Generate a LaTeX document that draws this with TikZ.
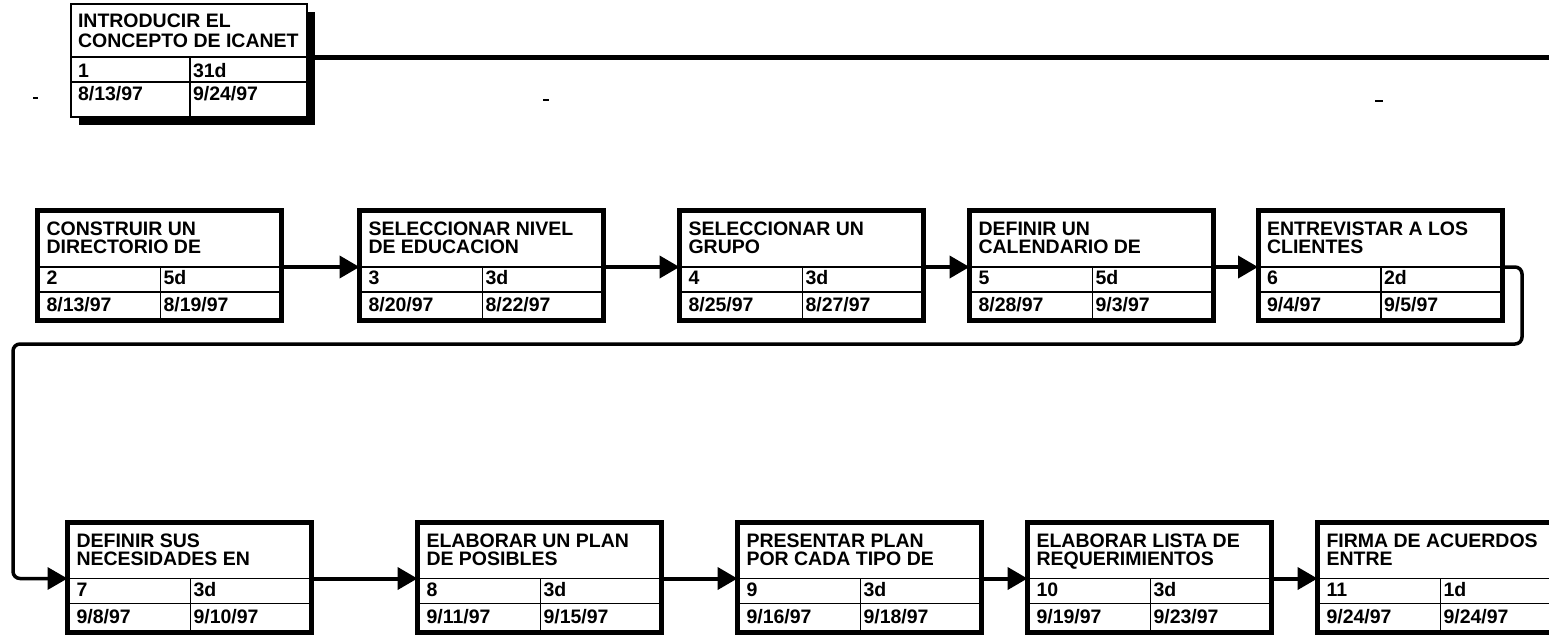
\documentclass[tikz,border=0pt]{standalone}
\usepackage{fontspec}
\setmainfont{Liberation Sans}
\usetikzlibrary{calc,arrows.meta}
\tikzset{
  crit/.style={draw, line width=5pt, fill=white, minimum width=244pt, minimum height=110pt, inner sep=0pt, outer sep=0pt},
  noncrit/.style={draw, line width=1.3pt, fill=white, minimum width=236pt, minimum height=113pt, inner sep=0pt, outer sep=0pt},
  gridline/.style={line width=1.2pt},
  txt/.style={inner sep=0pt, outer sep=0pt, font=\fontsize{19.5}{18}\selectfont\bfseries},
  flow/.style={line width=4pt, -{Triangle[length=20pt,width=22pt]}},
  straymark/.style={line width=2.5pt},
}
\newcommand\critbox[8]{%
  \node[crit, anchor=north west] (#1) at (#2) {};
  \coordinate (#1-in) at ($(#1.north west)+(0,56.5)$);
  \coordinate (#1-out) at ($(#1.north east)+(0,56.5)$);
  \coordinate (#1-rl) at ($(#1.north west)+(0,81.5)$);
  \coordinate (#1-rr) at ($(#1.north east)+(0,81.5)$);
  \coordinate (#1-ct) at ($(#1.north west)+(123,56.5)$);
  \coordinate (#1-cb) at ($(#1.south west)+(123,0)$);
  \draw[gridline] (#1-in) -- (#1-out) (#1-rl) -- (#1-rr) (#1-ct) -- (#1-cb);
  \node[txt, anchor=base west] (#1-t1) at ($(#1.north west)+(9,25)$) {#3};
  \node[txt, anchor=base west] (#1-t2) at ($(#1.north west)+(9,43)$) {#4};
  \node[txt, anchor=base west] (#1-id) at ($(#1.north west)+(9,74)$) {#5};
  \node[txt, anchor=base west] (#1-du) at ($(#1.north west)+(126,74)$) {#6};
  \node[txt, anchor=base west] (#1-st) at ($(#1.north west)+(9,101)$) {#7};
  \node[txt, anchor=base west] (#1-fi) at ($(#1.north west)+(126,101)$) {#8};
}
\begin{document}
\begin{tikzpicture}[x=1pt,y=-1pt]
\useasboundingbox (0,0) rectangle (1549,635);
\clip (0,0) rectangle (1549,635);
% task 1 (non-critical, with shadow)
\fill (79,12) rectangle (315,125);
\node[noncrit, anchor=north west] (b1) at (71,4) {};
\coordinate (b1-in) at ($(b1.north west)+(0,53)$);
\coordinate (b1-out) at ($(b1.north east)+(0,53)$);
\coordinate (b1-rl) at ($(b1.north west)+(0,78)$);
\coordinate (b1-rr) at ($(b1.north east)+(0,78)$);
\coordinate (b1-ct) at ($(b1.north west)+(119,53)$);
\coordinate (b1-cb) at ($(b1.south west)+(119,0)$);
\draw[gridline] (b1-in) -- (b1-out) (b1-rl) -- (b1-rr) (b1-ct) -- (b1-cb);
\node[txt, anchor=base west] (b1-t1) at (78,27) {INTRODUCIR EL};
\node[txt, anchor=base west] (b1-t2) at (78,47) {CONCEPTO DE ICANET};
\node[txt, anchor=base west] (b1-id) at (78,77) {1};
\node[txt, anchor=base west] (b1-du) at (193,77) {31d};
\node[txt, anchor=base west] (b1-st) at (78,100) {8/13/97};
\node[txt, anchor=base west] (b1-fi) at (193,100) {9/24/97};
\coordinate (e1) at (1560,57);
\draw[line width=5pt] (b1-out) -- (e1);
% stray marks
\draw[straymark] (33,98) -- (38,98);
\draw[straymark] (543,100) -- (549,100);
\draw[straymark] (1375,101) -- (1383,101);
% row 1
\critbox{b2}{37.5,210.5}{CONSTRUIR UN}{DIRECTORIO DE}{2}{5d}{8/13/97}{8/19/97}
\critbox{b3}{359.5,210.5}{SELECCIONAR NIVEL}{DE EDUCACION}{3}{3d}{8/20/97}{8/22/97}
\critbox{b4}{679.5,210.5}{SELECCIONAR UN}{GRUPO}{4}{3d}{8/25/97}{8/27/97}
\critbox{b5}{969.5,210.5}{DEFINIR UN}{CALENDARIO DE}{5}{5d}{8/28/97}{9/3/97}
\critbox{b6}{1258,210.5}{ENTREVISTAR A LOS}{CLIENTES}{6}{2d}{9/4/97}{9/5/97}
% row 2
\critbox{b7}{67.5,522}{DEFINIR SUS}{NECESIDADES EN}{7}{3d}{9/8/97}{9/10/97}
\critbox{b8}{417.5,522}{ELABORAR UN PLAN}{DE POSIBLES}{8}{3d}{9/11/97}{9/15/97}
\critbox{b9}{737.5,522}{PRESENTAR PLAN}{POR CADA TIPO DE}{9}{3d}{9/16/97}{9/18/97}
\critbox{b10}{1027.5,522}{ELABORAR LISTA DE}{REQUERIMIENTOS}{10}{3d}{9/19/97}{9/23/97}
\critbox{b11}{1317.5,522}{FIRMA DE ACUERDOS}{ENTRE}{11}{1d}{9/24/97}{9/24/97}
% connectors
\draw[flow] (b2-out) -- (b3-in);
\draw[flow] (b3-out) -- (b4-in);
\draw[flow] (b4-out) -- (b5-in);
\draw[flow] (b5-out) -- (b6-in);
\coordinate (r1) at (1522,344);
\coordinate (r2) at (13,344);
\draw[flow, line width=3.5pt, rounded corners=7pt] (b6-out) -| (r1) -- (r2) |- (b7-in);
\draw[flow] (b7-out) -- (b8-in);
\draw[flow] (b8-out) -- (b9-in);
\draw[flow] (b9-out) -- (b10-in);
\draw[flow] (b10-out) -- (b11-in);
\end{tikzpicture}
\end{document}
